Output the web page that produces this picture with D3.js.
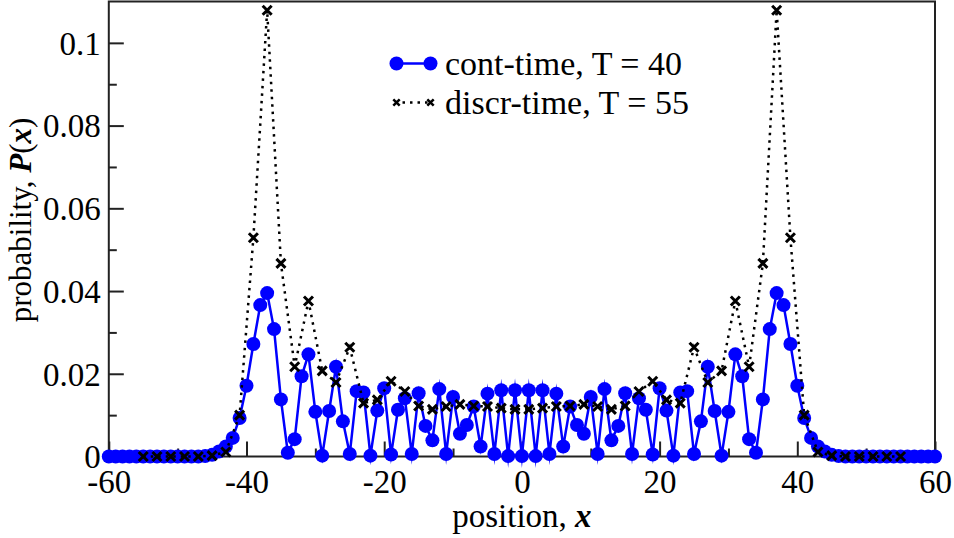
<!DOCTYPE html>
<html>
<head>
<meta charset="utf-8">
<script src="https://cdn.jsdelivr.net/npm/d3@7"></script>
<style>
  html, body { margin: 0; padding: 0; background: #fff; }
  svg { display: block; font-family: "Liberation Serif", "DejaVu Serif", serif; }
</style>
</head>
<body>
<svg id="chart" width="954" height="538"></svg>
<script>
// ── Data ─────────────────────────────────────────────────────────────────────

// continuous-time walk, T = 40, every integer position -60 … 60
const contPos = d3.range(-60, 61);
const contProb = [
  0, 0, 0, 0, 0, 0, 0, 0, 0, 0, 0, 0, 0, 0,          // -60 … -47
  0.0001, 0.0004, 0.0012, 0.0024, 0.0045, 0.0093,     // -46 … -41
  0.0171, 0.0272, 0.0366, 0.0395, 0.0308, 0.0138,     // -40 … -35
  0.0009, 0.0042, 0.0194, 0.0247, 0.0108, 0.0002,     // -34 … -29
  0.0110, 0.0217, 0.0085, 0.0006, 0.0158, 0.0155,     // -28 … -23
  0.0002, 0.0111, 0.0165, 0.0005, 0.0113, 0.0141,     // -22 … -17
  0.0006, 0.0153, 0.0074, 0.0039, 0.0163, 0.0006,     // -16 … -11
  0.0144, 0.0055, 0.0076, 0.0121, 0.0024, 0.0152,     // -10 … -5
  0.0006, 0.0160, 0.0001, 0.0160,                     // -4 … -1
  0.0001,                                             // 0
  0.0160, 0.0001, 0.0160, 0.0006,                     // 1 … 4
  0.0152, 0.0024, 0.0121, 0.0076, 0.0055, 0.0144,     // 5 … 10
  0.0006, 0.0163, 0.0039, 0.0074, 0.0153, 0.0006,     // 11 … 16
  0.0141, 0.0113, 0.0005, 0.0165, 0.0111, 0.0002,     // 17 … 22
  0.0155, 0.0158, 0.0006, 0.0085, 0.0217, 0.0110,     // 23 … 28
  0.0002, 0.0108, 0.0247, 0.0194, 0.0042, 0.0009,     // 29 … 34
  0.0138, 0.0308, 0.0395, 0.0366, 0.0272, 0.0171,     // 35 … 40
  0.0093, 0.0045, 0.0024, 0.0012, 0.0004, 0.0001,     // 41 … 46
  0, 0, 0, 0, 0, 0, 0, 0, 0, 0, 0, 0, 0, 0            // 47 … 60
];

// discrete-time walk, T = 55, odd positions -55 … 55
const discPos = d3.range(-55, 56, 2);
const discProb = [
  0, 0, 0, 0, 0, 0.0002, 0.0011, 0.0100,              // -55 … -41
  0.0529, 0.1079, 0.0467, 0.0217, 0.0376, 0.0207,     // -39 … -29
  0.0179, 0.0264, 0.0129, 0.0137, 0.0182, 0.0157,     // -27 … -17
  0.0122, 0.0114, 0.0121, 0.0126, 0.0122, 0.0121,     // -15 … -5
  0.0117, 0.0114,                                     // -3, -1
  0.0114, 0.0117,                                     // 1, 3
  0.0121, 0.0122, 0.0126, 0.0121, 0.0114, 0.0122,     // 5 … 15
  0.0157, 0.0182, 0.0137, 0.0129, 0.0264, 0.0179,     // 17 … 27
  0.0207, 0.0376, 0.0217, 0.0467, 0.1079, 0.0529,     // 29 … 39
  0.0100, 0.0011, 0.0002, 0, 0, 0, 0, 0               // 41 … 55
];

const xMajor = [-60, -40, -20, 0, 20, 40, 60];
const xMinor = [-50, -30, -10, 10, 30, 50];
const yMajor = [0, 0.02, 0.04, 0.06, 0.08, 0.1];
const yMinor = [0.01, 0.03, 0.05, 0.07, 0.09];

const legendLabels = ["cont-time, T = 40", "discr-time, T = 55"];

// ── Setup ────────────────────────────────────────────────────────────────────

const BLUE = "#0000ff";
const SERIF = "'Liberation Serif', 'DejaVu Serif', serif";
const FRAME = { left: 108.8, right: 935, top: 1.5, bottom: 456.5 };

const svg = d3.select("#chart");

const x = d3.scaleLinear().domain([-60, 60]).range([FRAME.left, FRAME.right]);
const y = d3.scaleLinear().domain([0, 0.11]).range([FRAME.bottom, FRAME.top]);

const fmtY = d => d === 0 ? "0" : String(+d.toFixed(2));

// ── Axes ─────────────────────────────────────────────────────────────────────

const gx = svg.append("g").attr("transform", `translate(0,${FRAME.bottom})`);
gx.call(d3.axisBottom(x).tickValues(xMajor).tickSize(-15).tickPadding(13)
  .tickFormat(d => String(d)));
gx.append("g").call(d3.axisBottom(x).tickValues(xMinor).tickSize(-8).tickFormat(""));

const gy = svg.append("g").attr("transform", `translate(${FRAME.left},0)`);
gy.call(d3.axisLeft(y).tickValues(yMajor).tickSize(-15).tickPadding(8).tickFormat(fmtY));
gy.append("g").call(d3.axisLeft(y).tickValues(yMinor).tickSize(-8).tickFormat(""));

svg.selectAll(".domain").remove();
svg.selectAll(".tick line").attr("stroke", "#222").attr("stroke-width", 2);
svg.selectAll(".tick text")
  .style("font-family", SERIF)
  .style("font-size", "33px")
  .attr("fill", "#000");
gy.selectAll(".tick text").attr("dy", "0.34em");

// frame
svg.append("rect")
  .attr("x", FRAME.left).attr("y", FRAME.top)
  .attr("width", FRAME.right - FRAME.left)
  .attr("height", FRAME.bottom - FRAME.top)
  .attr("fill", "none").attr("stroke", "#222").attr("stroke-width", 2);

// axis titles
const xTitle = svg.append("text")
  .attr("x", (FRAME.left + FRAME.right) / 2).attr("y", 527)
  .attr("text-anchor", "middle").attr("font-size", 33);
xTitle.append("tspan").text("position, ");
xTitle.append("tspan").attr("font-weight", "bold").attr("font-style", "italic").text("x");

const yTitle = svg.append("text")
  .attr("transform", "translate(31,220) rotate(-90)")
  .attr("text-anchor", "middle").attr("font-size", 31);
yTitle.append("tspan").text("probability, ");
yTitle.append("tspan").attr("font-weight", "bold").attr("font-style", "italic").text("P");
yTitle.append("tspan").text("(");
yTitle.append("tspan").attr("font-weight", "bold").attr("font-style", "italic").text("x");
yTitle.append("tspan").text(")");

// ── Series ───────────────────────────────────────────────────────────────────

const contData = contPos.map((p, i) => ({ p, v: contProb[i] }));
const discData = discPos.map((p, i) => ({ p, v: discProb[i] }));

const line = d3.line().x(d => x(d.p)).y(d => y(d.v));

svg.append("path")
  .datum(contData)
  .attr("fill", "none")
  .attr("stroke", BLUE)
  .attr("stroke-width", 2.5)
  .attr("stroke-linejoin", "miter")
  .attr("stroke-miterlimit", 20)
  .attr("d", line);

svg.append("g").selectAll("circle")
  .data(contData)
  .join("circle")
  .attr("cx", d => x(d.p))
  .attr("cy", d => y(d.v))
  .attr("r", 7)
  .attr("fill", BLUE);

svg.append("path")
  .datum(discData)
  .attr("fill", "none")
  .attr("stroke", "#000")
  .attr("stroke-width", 2.5)
  .attr("stroke-dasharray", "2.5,5")
  .attr("d", line);

const crossPath = s => `M${-s},${-s}L${s},${s}M${-s},${s}L${s},${-s}`;

svg.append("g").selectAll("path")
  .data(discData)
  .join("path")
  .attr("transform", d => `translate(${x(d.p)},${y(d.v)})`)
  .attr("d", crossPath(4.5))
  .attr("stroke", "#000")
  .attr("stroke-width", 3)
  .attr("fill", "none");

// ── Legend ───────────────────────────────────────────────────────────────────

const lg = svg.append("g");
const L = { x0: 396.5, x1: 430.5, textX: 445, rows: [63.5, 102.5], base: [75, 114] };

lg.append("line")
  .attr("x1", L.x0).attr("x2", L.x1).attr("y1", L.rows[0]).attr("y2", L.rows[0])
  .attr("stroke", BLUE).attr("stroke-width", 2.5);
lg.selectAll("circle").data([L.x0, L.x1]).join("circle")
  .attr("cx", d => d).attr("cy", L.rows[0]).attr("r", 7).attr("fill", BLUE);

lg.append("line")
  .attr("x1", L.x0).attr("x2", L.x1).attr("y1", L.rows[1]).attr("y2", L.rows[1])
  .attr("stroke", "#000").attr("stroke-width", 2.5).attr("stroke-dasharray", "2.5,5")
  .attr("stroke-dashoffset", -6);
lg.selectAll("path.lx").data([L.x0, L.x1]).join("path").attr("class", "lx")
  .attr("transform", d => `translate(${d},${L.rows[1]})`)
  .attr("d", crossPath(3.2))
  .attr("stroke", "#000").attr("stroke-width", 2.5).attr("fill", "none");

lg.selectAll("text").data(legendLabels).join("text")
  .attr("x", L.textX).attr("y", (d, i) => L.base[i])
  .attr("font-size", 34)
  .text(d => d);
</script>
</body>
</html>
